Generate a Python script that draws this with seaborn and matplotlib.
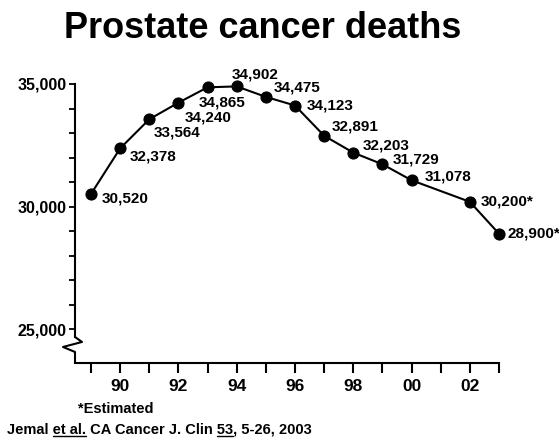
import numpy as np
import pandas as pd
import matplotlib
matplotlib.use("Agg")
import matplotlib.pyplot as plt
import matplotlib.transforms as mtransforms
from matplotlib.lines import Line2D
import seaborn as sns

# data (2001 has no point, 2002/2003 are estimates)
years = [1989, 1990, 1991, 1992, 1993, 1994, 1995, 1996, 1997, 1998, 1999, 2000, 2002, 2003]
deaths = [30520, 32378, 33564, 34240, 34865, 34902, 34475, 34123, 32891, 32203, 31729, 31078, 30200, 28900]
point_labels = ["30,520", "32,378", "33,564", "34,240", "34,865", "34,902", "34,475", "34,123",
                "32,891", "32,203", "31,729", "31,078", "30,200*", "28,900*"]
tick_years = list(range(1989, 2004))
tick_labels = ["", "90", "", "92", "", "94", "", "96", "", "98", "", "00", "", "02", ""]
y_major = [25000, 30000, 35000]
y_major_labels = ["25,000", "30,000", "35,000"]
y_minor = [26000, 27000, 28000, 29000, 31000, 32000, 33000, 34000]

# label offsets (pixels) so they sit where the slide put them
offsets = [(11, -5), (10, -8), (4, -13), (6, -15), (-9, -15), (-5, 12), (8, 9),
           (12, 0), (8, 9), (9, 7), (10, 5), (13, 4), (11, 0), (8, 0)]

df = pd.DataFrame({"year": years, "deaths": deaths})

sns.set_style("white")
plt.rcParams["font.family"] = ["Liberation Sans", "DejaVu Sans"]
plt.rcParams["font.weight"] = "bold"
for key in ["text.color", "axes.labelcolor", "xtick.color", "ytick.color", "axes.edgecolor"]:
    plt.rcParams[key] = "black"

W, H = 559, 438
fig = plt.figure(figsize=(W / 100, H / 100), dpi=100)
ax = fig.add_axes([75 / W, 1 - 363 / H, (499 - 75) / W, (363 - 84) / H])

sns.lineplot(data=df, x="year", y="deaths", ax=ax, color="black", lw=1.5,
             marker="o", markersize=8, markeredgecolor="black", markerfacecolor="black",
             clip_on=False, sort=False)

ax.set_xlim(1989 - 16 / 29.1, 2003)
ax.set_ylim(23633, 35000)
ax.set_xlabel("")
ax.set_ylabel("")

ax.set_xticks(tick_years)
ax.set_xticklabels(tick_labels, fontsize=12.5, fontweight="bold")
ax.set_yticks(y_major)
ax.set_yticklabels(y_major_labels, fontsize=11.5, fontweight="bold")
ax.set_yticks(y_minor, minor=True)
ax.tick_params(axis="x", direction="out", length=7, width=1.5, pad=4.3, bottom=True)
ax.tick_params(axis="y", which="both", direction="out", length=4.5, width=1.3, pad=1.5, left=True)

for s in ["top", "right"]:
    ax.spines[s].set_visible(False)
for s in ["left", "bottom"]:
    ax.spines[s].set_linewidth(1.5)
    ax.spines[s].set_color("black")

# axis break on the y axis
ax.spines["left"].set_bounds(24694, 35000)
blend = mtransforms.blended_transform_factory(ax.transAxes, ax.transData)
zx = [0, 7 / 424, -12 / 424, 0, 0]
zy = [24694, 24490, 24286, 24082, 23633]
ax.add_line(Line2D(zx, zy, transform=blend, color="black", lw=1.5, clip_on=False))

for x, y, lab, (dx, dy) in zip(years, deaths, point_labels, offsets):
    ax.annotate(lab, (x, y), xytext=(dx, dy), textcoords="offset pixels",
                ha="left", va="center", fontsize=11, fontweight="bold",
                annotation_clip=False)

fig.text(263 / W, 1 - 38 / H, "Prostate cancer deaths", ha="center", va="baseline",
         fontsize=26, fontweight="bold")
fig.text(78 / W, 1 - 413 / H, "*Estimated", ha="left", va="baseline",
         fontsize=10.5, fontweight="bold")

cite = "Jemal et al. CA Cancer J. Clin 53, 5-26, 2003"
cite_kw = dict(ha="left", va="baseline", fontsize=10.5, fontweight="bold")
fig.text(7 / W, 1 - 433 / H, cite, **cite_kw)

renderer = fig.canvas.get_renderer()


def text_width(s):
    t = fig.text(0, 0, s, **cite_kw)
    w = t.get_window_extent(renderer).width
    t.remove()
    return w


# underline "et al." and "53"
for prefix, word in [("Jemal e", "et al."), ("Jemal et al. CA Cancer J. Clin 5", "53")]:
    first = word[0]
    x1 = 7 + text_width(prefix) - text_width(first)
    x2 = x1 + text_width(word)
    fig.add_artist(Line2D([x1 / W, x2 / W], [1 - 435.5 / H, 1 - 435.5 / H],
                          transform=fig.transFigure, color="black", lw=1.0))

fig.savefig("out.png", dpi=100, facecolor="white")
